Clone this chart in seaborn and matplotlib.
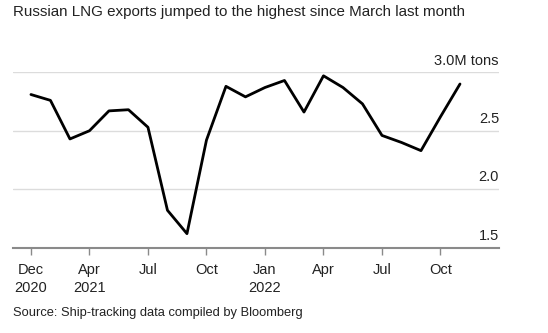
import matplotlib
matplotlib.use("Agg")
import matplotlib.pyplot as plt
import seaborn as sns
import pandas as pd

months = ["Dec 2020", "Jan 2021", "Feb 2021", "Mar 2021", "Apr 2021", "May 2021", "Jun 2021",
          "Jul 2021", "Aug 2021", "Sep 2021", "Oct 2021", "Nov 2021", "Dec 2021", "Jan 2022",
          "Feb 2022", "Mar 2022", "Apr 2022", "May 2022", "Jun 2022", "Jul 2022", "Aug 2022",
          "Sep 2022", "Oct 2022"]
exports = [2.81, 2.76, 2.43, 2.50, 2.67, 2.68, 2.53, 1.82, 1.62, 2.42, 2.88, 2.79, 2.87,
           2.93, 2.66, 2.97, 2.87, 2.73, 2.46, 2.40, 2.33, 2.62, 2.90]
tick_labels = ["Dec\n2020", "Apr\n2021", "Jul", "Oct", "Jan\n2022", "Apr", "Jul", "Oct"]
y_ticks = [1.5, 2.0, 2.5, 3.0]
y_labels = ["1.5", "2.0", "2.5", "3.0M tons"]

df = pd.DataFrame({"idx": range(len(exports)), "value": exports})

sns.set_theme(style="white")
plt.rcParams["font.family"] = ["Liberation Sans", "DejaVu Sans"]

fig = plt.figure(figsize=(5.48, 3.33), dpi=100)
ax = fig.add_axes([13 / 548, 85.3 / 333, 486 / 548, 175.4 / 333])

sns.lineplot(data=df, x="idx", y="value", ax=ax, color="black", linewidth=2.0, clip_on=False)

ax.set_xlim(-0.92, 24.0)
ax.set_ylim(1.5, 3.0)
for s in ["top", "left", "right"]:
    ax.spines[s].set_visible(False)
ax.spines["bottom"].set_color("#8a8a8a")
ax.spines["bottom"].set_linewidth(1.5)

ax.set_yticks(y_ticks)
ax.set_yticklabels([])
ax.tick_params(axis="y", length=0, left=False, right=False)
for y, lab in zip(y_ticks, y_labels):
    ax.annotate(lab, xy=(1.0, y), xycoords=("axes fraction", "data"),
                xytext=(0, 5.6), textcoords="offset points",
                ha="right", va="baseline", fontsize=10.5, color="#222222",
                annotation_clip=False)
for y in y_ticks[1:]:
    ax.axhline(y, color="#dcdcdc", linewidth=1.0, zorder=0)

ax.set_xticks(range(0, 22, 3))
ax.set_xticklabels(tick_labels)
ax.tick_params(axis="x", length=5, width=1, color="#8a8a8a", pad=6, labelsize=10.5,
               labelcolor="#222222", bottom=True)
for lab in ax.get_xticklabels():
    lab.set_linespacing(1.38)
ax.set_xlabel("")
ax.set_ylabel("")

fig.text(13 / 548, 1 - 12 / 333, "Russian LNG exports jumped to the highest since March last month",
         fontsize=10.9, color="#222222", va="center", ha="left")
fig.text(13 / 548, 1 - 313 / 333, "Source: Ship-tracking data compiled by Bloomberg",
         fontsize=9.3, color="#222222", va="center", ha="left")

fig.savefig("out.png", dpi=100)
